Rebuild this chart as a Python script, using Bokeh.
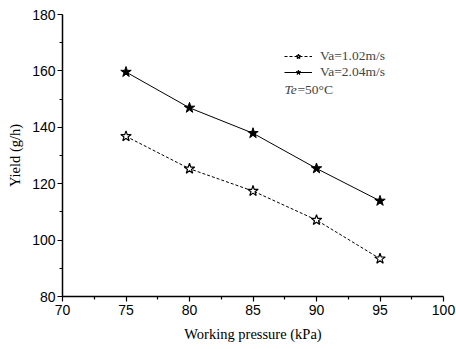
from bokeh.plotting import figure
from bokeh.models import Legend, LegendItem, Label, FixedTicker, Range1d
from bokeh.embed import file_html
from bokeh.resources import INLINE

pressure = [75, 80, 85, 90, 95]
yield_102 = [136.8, 125.3, 117.4, 107.1, 93.4]
yield_204 = [159.6, 146.9, 137.9, 125.4, 113.9]
label_102 = "Va=1.02m/s"
label_204 = "Va=2.04m/s"
x_ticks = [70, 75, 80, 85, 90, 95, 100]
y_ticks = [80, 100, 120, 140, 160, 180]

p = figure(width=456, height=349, output_backend="svg", toolbar_location=None,
           x_range=Range1d(70, 100), y_range=Range1d(80, 180),
           min_border_left=62, min_border_right=13, min_border_top=14, min_border_bottom=53)
p.outline_line_color = None
p.xgrid.visible = False
p.ygrid.visible = False

r1 = p.line(pressure, yield_102, line_color="black", line_width=1, line_dash="3 2")
s1 = p.scatter(pressure, yield_102, marker="star", size=11, fill_color="white", line_color="black", line_width=1.2)
r2 = p.line(pressure, yield_204, line_color="black", line_width=1)
s2 = p.scatter(pressure, yield_204, marker="star", size=11, fill_color="black", line_color="black")

legend = Legend(items=[LegendItem(label=label_102, renderers=[r1, s1]),
                       LegendItem(label=label_204, renderers=[r2, s2])],
                location=(222, 216), orientation="vertical")
legend.border_line_color = None
legend.background_fill_alpha = 0
legend.padding = 0
legend.margin = 0
legend.spacing = 0
legend.glyph_width = 28
legend.glyph_height = 12
legend.label_height = 12
legend.label_standoff = 8
legend.label_text_font = "Liberation Serif"
legend.label_text_font_size = "13.5px"
p.add_layout(legend)

p.add_layout(Label(x=222, y=200, x_units="screen", y_units="screen", text="Te",
                   text_font="Liberation Serif", text_font_style="italic", text_font_size="13.5px"))
p.add_layout(Label(x=235, y=200, x_units="screen", y_units="screen", text="=50°C",
                   text_font="Liberation Serif", text_font_size="13.5px"))

for ax in (p.xaxis[0], p.yaxis[0]):
    ax.axis_line_color = "black"
    ax.axis_line_width = 1.5
    ax.major_tick_line_width = 1.2
    ax.minor_tick_line_width = 1.2
    ax.major_tick_out = 5
    ax.major_tick_in = 0
    ax.minor_tick_out = 3
    ax.minor_tick_in = 0
    ax.major_label_text_font = "Liberation Sans"
    ax.major_label_text_font_size = "14px"
    ax.major_label_text_color = "black"
    ax.axis_label_text_font = "Liberation Serif"
    ax.axis_label_text_font_size = "14.5px"
    ax.axis_label_text_font_style = "normal"
    ax.axis_label_text_color = "black"

p.xaxis.ticker = FixedTicker(ticks=x_ticks, minor_ticks=[72.5, 77.5, 82.5, 87.5, 92.5, 97.5])
p.yaxis.ticker = FixedTicker(ticks=y_ticks, minor_ticks=[90, 110, 130, 150, 170])
p.xaxis.axis_label = "Working pressure (kPa)"
p.yaxis.axis_label = "Yield (g/h)"
p.xaxis.major_label_standoff = 3
p.yaxis.major_label_standoff = 2
p.xaxis.axis_label_standoff = 8
p.yaxis.axis_label_standoff = 6

open("out.html", "w").write(file_html(p, INLINE))
